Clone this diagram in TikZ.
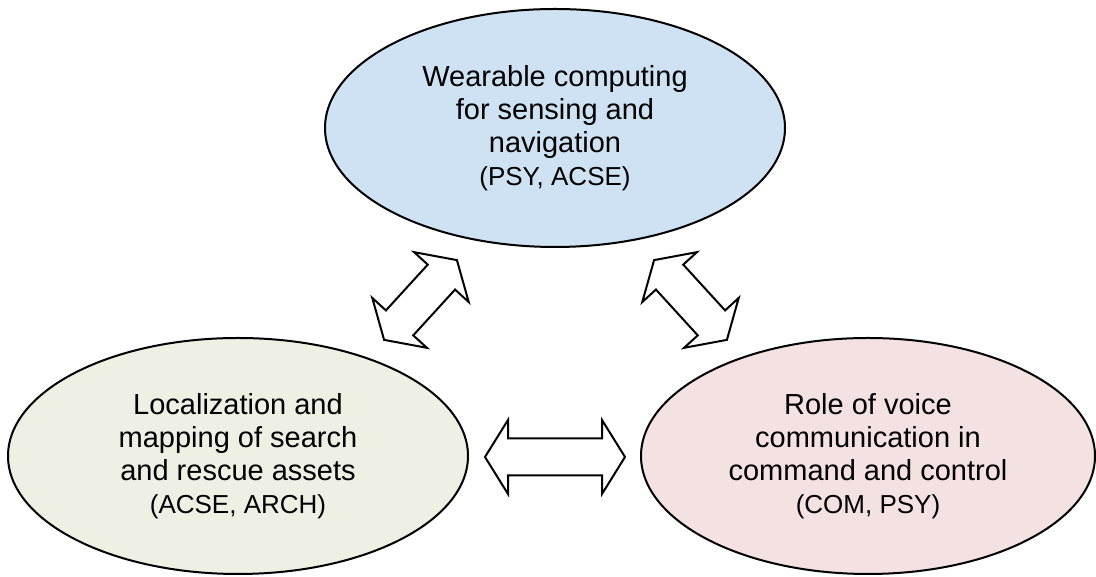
\documentclass[tikz,border=0pt]{standalone}
\usepackage{fontspec}
\setmainfont{Liberation Sans}
\usetikzlibrary{shapes.geometric}

\definecolor{wearblue}{HTML}{CFE2F3}
\definecolor{mapgreen}{HTML}{EDF0E2}
\definecolor{voicepink}{HTML}{F4E1E1}

\newcommand\unitsfont{\fontsize{26}{33}\selectfont}

\tikzset{
  topic/.style={ellipse, draw=black, line width=2pt, inner sep=0pt,
    align=center, font=\fontsize{29}{33}\selectfont},
  linkshape/.style={draw=black, fill=white, line width=2pt, line join=miter},
  % hollow two-headed arrow, #1 = half length
  pics/twoway/.style={code={
    \draw[linkshape] (-#1,0) -- (-#1+23,37) -- (-#1+23,18.5) -- (#1-23,18.5)
      -- (#1-23,37) -- (#1,0) -- (#1-23,-37) -- (#1-23,-18.5)
      -- (-#1+23,-18.5) -- (-#1+23,-37) -- cycle;
  }}
}

\begin{document}
\begin{tikzpicture}[x=1pt,y=1pt]
  \useasboundingbox (0,0) rectangle (1096,577);
  \fill[white] (0,0) rectangle (1096,577);

  \node[topic, fill=wearblue, minimum width=460pt, minimum height=238pt]
    (wear) at (555,449)
    {Wearable computing\\for sensing and\\navigation\\{\unitsfont (PSY, ACSE)}};
  \node[topic, fill=mapgreen, minimum width=460pt, minimum height=236pt]
    (map) at (238,121)
    {Localization and\\mapping of search\\and rescue assets\\{\unitsfont (ACSE, ARCH)}};
  \node[topic, fill=voicepink, minimum width=454pt, minimum height=236pt]
    (voice) at (868,121)
    {Role of voice\\communication in\\command and control\\{\unitsfont (COM, PSY)}};

  % links between the three topics
  \coordinate (mapwear) at (420.5,277);
  \coordinate (wearvoice) at (690.5,277);
  \coordinate (mapvoice) at (555,120);
  \pic[rotate=47.6] at (mapwear) {twoway=54};
  \pic[rotate=-47.6] at (wearvoice) {twoway=54};
  \pic at (mapvoice) {twoway=70};
\end{tikzpicture}
\end{document}
